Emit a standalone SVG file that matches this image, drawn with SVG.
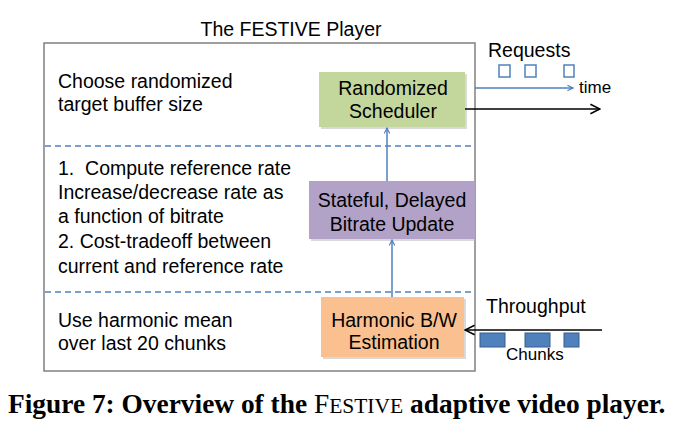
<svg xmlns="http://www.w3.org/2000/svg" width="674" height="424" viewBox="0 0 674 424">
<style>
.t{font-family:"Liberation Sans",Arial,sans-serif;font-size:19.5px;fill:#000}
.c{text-anchor:middle}
.s{font-size:17px}
.box{stroke:none}
.sh{fill:#bfbfbf;opacity:0.6}
.dash{stroke:#4f81bd;stroke-width:1.5;stroke-dasharray:6,4;fill:none}
.blue{stroke:#4f81bd;stroke-width:1.5;fill:none}
.blk{stroke:#000;stroke-width:1.5;fill:none}
.cap{font-family:"Liberation Serif","Times New Roman",serif;font-size:28px;font-weight:bold;fill:#000}
.sc{font-weight:normal;font-size:22px}
</style>
<defs>
<marker id="ab" viewBox="0 0 10 10" refX="9" refY="5" markerWidth="7" markerHeight="7" orient="auto" markerUnits="userSpaceOnUse">
<path d="M1,1 L9,5 L1,9" fill="none" stroke="#4f81bd" stroke-width="1.6"/>
</marker>
<marker id="ak" viewBox="0 0 10 10" refX="9" refY="5" markerWidth="12" markerHeight="12" orient="auto" markerUnits="userSpaceOnUse">
<path d="M1,1 L9,5 L1,9" fill="none" stroke="#000" stroke-width="1.3"/>
</marker>
</defs>
<rect width="674" height="424" fill="#fff"/>

<g id="player">
<rect x="44" y="43" width="431" height="328" fill="none" stroke="#808080" stroke-width="1.5"/>
<text class="t c" x="291" y="36">The FESTIVE Player</text>
<line class="dash" x1="45" y1="146" x2="474" y2="146"/>
<line class="dash" x1="45" y1="292" x2="474" y2="292"/>
</g>

<g id="desc-top">
<text class="t" x="58" y="88">Choose randomized</text>
<text class="t" x="58" y="111">target buffer size</text>
</g>
<g id="desc-mid">
<text class="t" x="58" y="175" xml:space="preserve">1.  Compute reference rate</text>
<text class="t" x="58" y="199">Increase/decrease rate as</text>
<text class="t" x="58" y="223">a function of bitrate</text>
<text class="t" x="58" y="248">2. Cost-tradeoff between</text>
<text class="t" x="58" y="273">current and reference rate</text>
</g>
<g id="desc-bot">
<text class="t" x="58" y="327">Use harmonic mean</text>
<text class="t" x="58" y="350">over last 20 chunks</text>
</g>

<g id="scheduler">
<rect class="sh" x="321" y="74" width="146" height="55"/>
<rect class="box" x="319" y="72" width="146" height="55" fill="#c3d69b"/>
<text class="t c" x="393" y="95">Randomized</text>
<text class="t c" x="393" y="118">Scheduler</text>
</g>
<g id="bitrate">
<rect class="sh" x="311" y="183" width="164" height="58"/>
<rect class="box" x="309" y="181" width="166" height="58" fill="#b3a2c7"/>
<text class="t c" x="392" y="207">Stateful, Delayed</text>
<text class="t c" x="392" y="231">Bitrate Update</text>
</g>
<g id="harmonic">
<rect class="sh" x="323" y="299" width="143" height="60"/>
<rect class="box" x="321" y="297" width="143" height="60" fill="#fac090"/>
<text class="t c" x="394" y="327">Harmonic B/W</text>
<text class="t c" x="394" y="349">Estimation</text>
</g>

<g id="requests">
<text class="t" x="488" y="57">Requests</text>
<rect x="499" y="65" width="11" height="12" fill="none" stroke="#4f81bd" stroke-width="1.5"/>
<rect x="525" y="65" width="11" height="12" fill="none" stroke="#4f81bd" stroke-width="1.5"/>
<rect x="564" y="65" width="10" height="12" fill="none" stroke="#4f81bd" stroke-width="1.5"/>
<text class="t s" x="579" y="93">time</text>
</g>
<g id="throughput">
<text class="t" x="486" y="313">Throughput</text>
<rect x="480" y="333" width="25" height="14" fill="#4f81bd" stroke="#385d8a" stroke-width="1"/>
<rect x="525" y="333" width="25" height="14" fill="#4f81bd" stroke="#385d8a" stroke-width="1"/>
<rect x="564" y="333" width="15" height="14" fill="#4f81bd" stroke="#385d8a" stroke-width="1"/>
<text class="t s" x="506" y="360">Chunks</text>
</g>

<g id="connectors">
<line class="blue" x1="392" y1="297" x2="392" y2="240" marker-end="url(#ab)"/>
<line class="blue" x1="387" y1="181" x2="387" y2="128" marker-end="url(#ab)"/>
<line class="blue" x1="475" y1="88" x2="573" y2="88" marker-end="url(#ab)"/>
<line class="blk" x1="465" y1="109" x2="600" y2="109" marker-end="url(#ak)"/>
<line class="blk" x1="602" y1="330" x2="465" y2="330" marker-end="url(#ak)"/>
</g>

<g id="caption">
<text class="cap" transform="translate(8 413) scale(0.978 1)" x="0" y="0">Figure 7: Overview of the <tspan font-weight="normal">F</tspan><tspan class="sc">ESTIVE</tspan> adaptive video player.</text>
</g>
</svg>
